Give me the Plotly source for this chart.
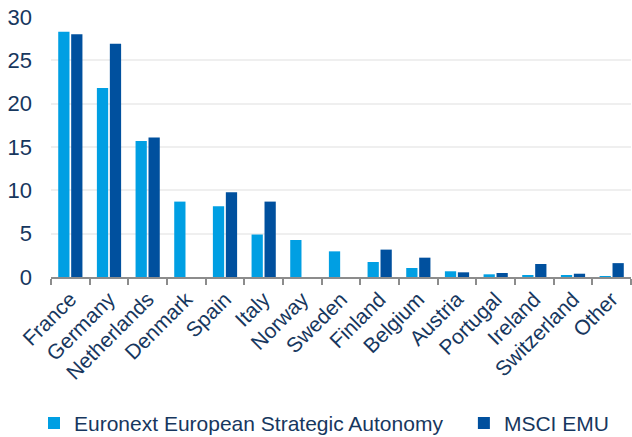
import plotly.graph_objects as go

countries = ["France", "Germany", "Netherlands", "Denmark", "Spain", "Italy", "Norway",
             "Sweden", "Finland", "Belgium", "Austria", "Portugal", "Ireland",
             "Switzerland", "Other"]
euronext = [28.3, 21.8, 15.7, 8.7, 8.15, 4.9, 4.27, 2.96, 1.73, 1.04, 0.66, 0.31, 0.23, 0.23, 0.08]
msci = [28.0, 26.9, 16.1, 0, 9.77, 8.7, 0, 0, 3.16, 2.23, 0.54, 0.46, 1.5, 0.38, 1.6]
yticks = [0, 5, 10, 15, 20, 25, 30]

text_color = "#17375E"
font_family = "Liberation Sans, Arial, sans-serif"

fig = go.Figure()
fig.add_trace(go.Bar(x=countries, y=euronext, name="Euronext European Strategic Autonomy",
                     marker=dict(color="#009FE3", line=dict(width=0)), legend="legend"))
fig.add_trace(go.Bar(x=countries, y=msci, name="MSCI EMU",
                     marker=dict(color="#00509E", line=dict(width=0)), legend="legend2"))

legend_common = dict(orientation="h", xref="container", yref="container",
                     y=0.0313, yanchor="middle", xanchor="left",
                     font=dict(size=21, color=text_color), itemwidth=30,
                     bgcolor="rgba(0,0,0,0)")

fig.update_layout(
    width=632, height=437,
    margin=dict(l=51, r=1, t=17, b=160),
    paper_bgcolor="white", plot_bgcolor="white",
    barmode="group", bargap=0.33, bargroupgap=0.13,
    font=dict(family=font_family, color=text_color),
    showlegend=True,
    legend=dict(x=0.0538, **legend_common),
    legend2=dict(x=0.734, **legend_common),
    xaxis=dict(tickangle=-45, tickfont=dict(size=21, color=text_color),
               showline=True, linecolor="#8C8C8C", linewidth=1.5,
               ticks="outside", tickson="boundaries", ticklen=6, tickcolor="#8C8C8C",
               tickwidth=1.5, showgrid=False, automargin=False),
    yaxis=dict(range=[0, 30], tickvals=yticks, tickfont=dict(size=22, color=text_color),
               showgrid=True, gridcolor="#EFEFEF", gridwidth=1.5, zeroline=False,
               ticks="", ticklabelstandoff=18, automargin=False),
)

# remove the browser's default 8px page margin so the figure sits at the window's corner
fig.write_html("out.html", config={"displayModeBar": False},
               post_script="document.body.style.margin='0';document.body.style.overflow='hidden';")
